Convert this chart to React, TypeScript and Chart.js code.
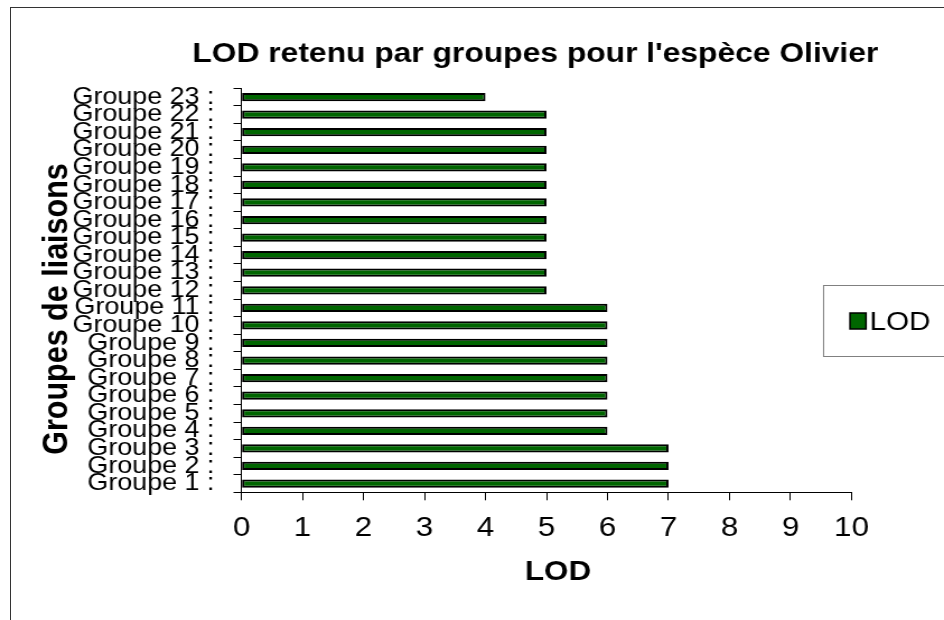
import React, { useEffect, useRef } from 'react';
import { Chart, registerables } from 'chart.js';

Chart.register(...registerables);

// ---- data ----
const categories = [
  'Groupe 1 :', 'Groupe 2 :', 'Groupe 3 :', 'Groupe 4 :', 'Groupe 5 :', 'Groupe 6 :',
  'Groupe 7 :', 'Groupe 8 :', 'Groupe 9 :', 'Groupe 10 :', 'Groupe 11 :', 'Groupe 12 :',
  'Groupe 13 :', 'Groupe 14 :', 'Groupe 15 :', 'Groupe 16 :', 'Groupe 17 :', 'Groupe 18 :',
  'Groupe 19 :', 'Groupe 20 :', 'Groupe 21 :', 'Groupe 22 :', 'Groupe 23 :',
];
const lodValues = [7, 7, 7, 6, 6, 6, 6, 6, 6, 6, 6, 5, 5, 5, 5, 5, 5, 5, 5, 5, 5, 5, 4];
const seriesLabel = 'LOD';
const xMin = 0;
const xMax = 10;
const xStep = 1;
const chartTitle = "LOD retenu par groupes pour l'espèce Olivier";
const xAxisTitle = 'LOD';
const yAxisTitle = 'Groupes de liaisons';

// ---- presentation ----
const FONT = "'Liberation Sans', Arial, Helvetica, sans-serif";
const CSS_W = 944;
const CSS_H = 620;
const LOGICAL_W = 843; // canvas is stretched horizontally like the original picture
const SX = CSS_W / LOGICAL_W;
const lx = (actualX: number) => actualX / SX;
const BAR_GREEN = '#006600';

const textPlugin = {
  id: 'excelTexts',
  afterDraw(chart: any) {
    const ctx = chart.ctx as CanvasRenderingContext2D;
    ctx.save();
    ctx.fillStyle = '#000';

    // chart title
    ctx.font = `bold 28.4px ${FONT}`;
    ctx.textAlign = 'center';
    ctx.textBaseline = 'alphabetic';
    ctx.fillText(chartTitle, lx(535.3), 61.7);

    // x axis title
    ctx.font = `bold 28px ${FONT}`;
    ctx.fillText(xAxisTitle, lx(558), 580);

    // y axis title
    ctx.save();
    ctx.font = `bold 30.5px ${FONT}`;
    ctx.translate(lx(67), 309);
    ctx.rotate(-Math.PI / 2);
    ctx.fillText(yAxisTitle, 0, 0);
    ctx.restore();

    // legend
    const ds = chart.data.datasets[0];
    ctx.strokeStyle = '#808080';
    ctx.lineWidth = 1;
    ctx.strokeRect(lx(823) + 0.5, 285.5, LOGICAL_W, 71);
    ctx.fillStyle = ds.backgroundColor;
    ctx.fillRect(lx(850), 313, lx(866) - lx(850), 16);
    ctx.strokeStyle = '#000';
    ctx.lineWidth = 1.5;
    ctx.strokeRect(lx(850), 313, lx(866) - lx(850), 16);
    ctx.fillStyle = '#000';
    ctx.font = `26.5px ${FONT}`;
    ctx.textAlign = 'left';
    ctx.fillText(ds.label, lx(871.7) - 0.073 * 26.5, 330);
    ctx.restore();
  },
};

export default function App() {
  const canvasRef = useRef<HTMLCanvasElement | null>(null);

  useEffect(() => {
    const canvas = canvasRef.current;
    if (!canvas) return;
    const chart = new Chart(canvas, {
      type: 'bar',
      data: {
        labels: categories,
        datasets: [
          {
            label: seriesLabel,
            data: lodValues,
            backgroundColor: BAR_GREEN,
            borderColor: '#000',
            borderWidth: 2,
            borderSkipped: false,
            barPercentage: 0.47,
            categoryPercentage: 1,
          },
        ],
      },
      options: {
        indexAxis: 'y',
        animation: false,
        responsive: false,
        devicePixelRatio: 1,
        events: [],
        layout: {
          padding: { left: 0, top: 88.3, right: LOGICAL_W - lx(851.5), bottom: 0 },
        },
        plugins: {
          legend: { display: false },
          title: { display: false },
          tooltip: { enabled: false },
        },
        scales: {
          x: {
            type: 'linear',
            min: xMin,
            max: xMax,
            ticks: {
              stepSize: xStep,
              color: '#000',
              font: { family: FONT, size: 28 },
              padding: 11.4,
            },
            grid: {
              display: true,
              drawOnChartArea: false,
              drawTicks: true,
              tickLength: 8,
              color: '#000',
              lineWidth: 1,
            },
            border: { display: true, color: '#000', width: 1 },
            afterFit: (scale: any) => {
              scale.height = CSS_H - 492.3;
            },
          },
          y: {
            type: 'category',
            reverse: true,
            ticks: {
              autoSkip: false,
              color: '#000',
              font: { family: FONT, size: 24 },
              padding: 17,
            },
            grid: {
              display: true,
              drawOnChartArea: false,
              drawTicks: true,
              tickLength: lx(8),
              color: '#000',
              lineWidth: 1,
              offset: true,
            },
            border: { display: true, color: '#000', width: 1 },
            afterFit: (scale: any) => {
              scale.width = lx(241.5);
            },
          },
        },
      },
      plugins: [textPlugin],
    });
    return () => chart.destroy();
  }, []);

  return (
    <div
      style={{
        position: 'absolute',
        left: 0,
        top: 0,
        width: CSS_W,
        height: CSS_H,
        overflow: 'hidden',
        background: '#fff',
      }}
    >
      <div
        style={{
          position: 'absolute',
          left: 10,
          top: 7,
          width: 2000,
          height: 2000,
          borderLeft: '1px solid #333',
          borderTop: '1px solid #333',
        }}
      />
      <canvas
        ref={canvasRef}
        width={LOGICAL_W}
        height={CSS_H}
        style={{ position: 'absolute', left: 0, top: 0, width: CSS_W, height: CSS_H, display: 'block' }}
      />
    </div>
  );
}
